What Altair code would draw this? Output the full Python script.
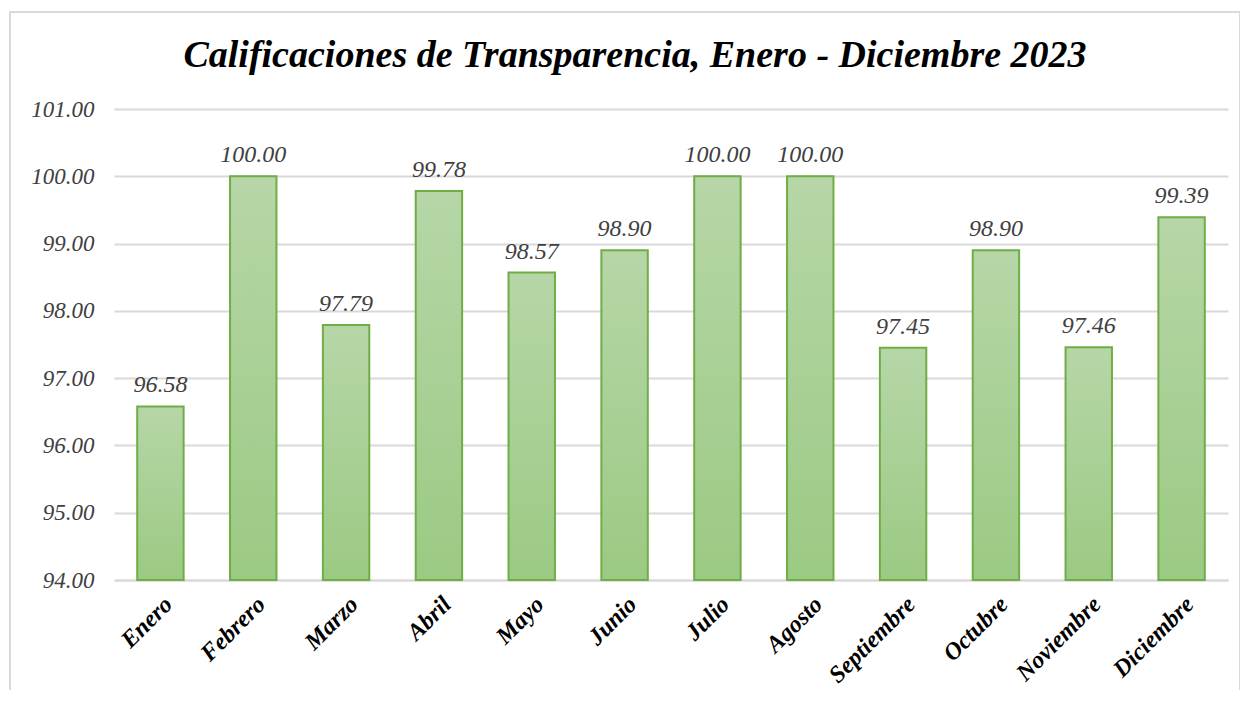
import altair as alt
import pandas as pd

months = ["Enero", "Febrero", "Marzo", "Abril", "Mayo", "Junio", "Julio",
          "Agosto", "Septiembre", "Octubre", "Noviembre", "Diciembre"]
scores = [96.58, 100.00, 97.79, 99.78, 98.57, 98.90, 100.00, 100.00,
          97.45, 98.90, 97.46, 99.39]
y_ticks = [94, 95, 96, 97, 98, 99, 100, 101]
title_text = "Calificaciones de Transparencia, Enero - Diciembre 2023"

df = pd.DataFrame({"mes": months, "calificacion": scores})

SERIF = "Liberation Serif"

x_enc = alt.X("mes:N", sort=months, title=None,
              scale=alt.Scale(paddingInner=0.5, paddingOuter=0.25),
              axis=alt.Axis(labelAngle=-45, labelFont=SERIF, labelFontSize=24,
                            labelFontWeight="bold", labelFontStyle="italic",
                            labelColor="#000000", labelPadding=12,
                            ticks=False, domain=True, domainColor="#d9d9d9",
                            domainWidth=2, grid=False))
y_scale = alt.Scale(domain=[94, 101], zero=False, nice=False)

bars = alt.Chart(df).mark_bar(
    color=alt.Gradient(
        gradient="linear",
        stops=[alt.GradientStop(color="#b6d6a7", offset=0),
               alt.GradientStop(color="#9bca83", offset=1)],
        x1=0, x2=0, y1=0, y2=1),
    stroke="#70ad47", strokeWidth=2
).encode(
    x=x_enc,
    y=alt.Y("calificacion:Q", scale=y_scale, title=None,
            axis=alt.Axis(values=y_ticks, format=".2f", labelFont=SERIF,
                          labelFontSize=23, labelFontStyle="italic",
                          labelColor="#404040", labelPadding=20,
                          ticks=False, domain=False,
                          gridColor="#d9d9d9", gridWidth=2)),
    y2=alt.datum(94),
)

labels = alt.Chart(df).mark_text(
    font=SERIF, fontSize=24, fontStyle="italic", color="#404040",
    baseline="bottom", dy=-9
).encode(
    x=alt.X("mes:N", sort=months),
    y=alt.Y("calificacion:Q", scale=y_scale),
    text=alt.Text("calificacion:Q", format=".2f"),
)

border = alt.Chart(df).mark_rect(
    fill=None, stroke="#d9d9d9", strokeWidth=2
).encode(
    x=alt.value(-104), x2=alt.value(1126),
    y=alt.value(-97), y2=alt.value(640),
)

title = alt.Chart(pd.DataFrame({"t": [title_text]})).mark_text(
    font=SERIF, fontSize=38, fontWeight="bold", fontStyle="italic",
    color="#000000", baseline="alphabetic", align="center"
).encode(
    x=alt.value(521), y=alt.value(-42), text="t:N",
)

chart = alt.layer(border, bars, labels, title).properties(
    width=1114, height=471,
    padding={"left": 106, "top": 101, "right": 12, "bottom": 110},
    autosize=alt.AutoSizeParams(type="none"),
).configure_view(stroke=None)

chart.save("out.html", embed_options={"renderer": "svg", "actions": False})
